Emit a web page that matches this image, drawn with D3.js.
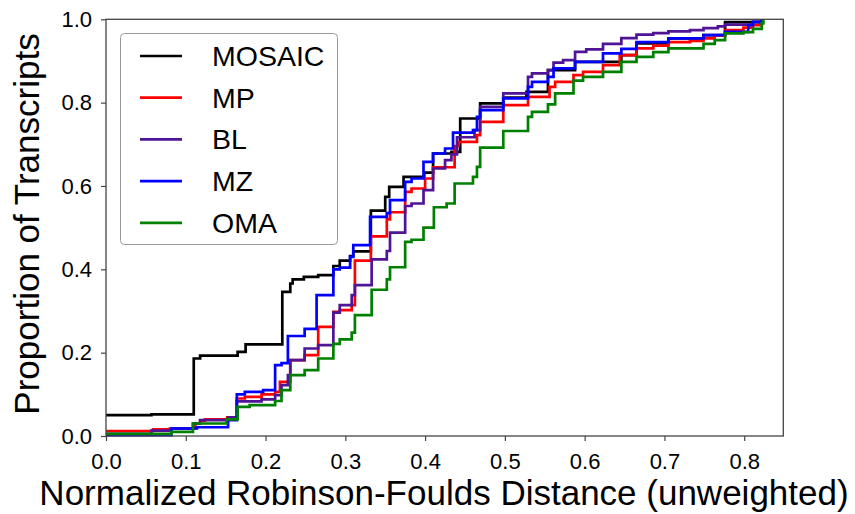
<!DOCTYPE html>
<html>
<head>
<meta charset="utf-8">
<title>Robinson-Foulds distance CDF</title>
<script src="https://d3js.org/d3.v7.min.js"></script>
<style>
  body {margin: 0; background: white;}
  text {font-family: "Liberation Sans", Arial, sans-serif; fill: black;}
</style>
</head>
<body>
<svg width="855" height="514"></svg>
<script>
// step points [distance, proportion]
var mosaic = [[0,0.050],[0.057,0.052],[0.110,0.186],[0.118,0.193],[0.165,0.202],[0.175,0.220],[0.221,0.346],[0.231,0.366],[0.234,0.376],[0.248,0.382],[0.266,0.386],[0.285,0.408],[0.293,0.421],[0.306,0.432],[0.310,0.443],[0.332,0.541],[0.350,0.574],[0.355,0.598],[0.373,0.622],[0.399,0.632],[0.410,0.678],[0.433,0.682],[0.444,0.762],[0.469,0.798],[0.498,0.812],[0.527,0.826],[0.554,0.878],[0.588,0.898],[0.646,0.914],[0.665,0.942],[0.705,0.954],[0.749,0.962],[0.776,0.993],[0.822,1.0]];
var mp = [[0,0.012],[0.059,0.016],[0.080,0.018],[0.112,0.030],[0.118,0.037],[0.124,0.040],[0.152,0.045],[0.164,0.090],[0.174,0.094],[0.195,0.100],[0.212,0.106],[0.218,0.130],[0.231,0.182],[0.249,0.194],[0.266,0.262],[0.285,0.298],[0.293,0.302],[0.308,0.314],[0.312,0.421],[0.332,0.479],[0.352,0.520],[0.356,0.537],[0.375,0.586],[0.383,0.594],[0.400,0.618],[0.410,0.645],[0.437,0.696],[0.442,0.706],[0.465,0.722],[0.469,0.754],[0.498,0.794],[0.529,0.814],[0.556,0.838],[0.563,0.850],[0.586,0.866],[0.598,0.874],[0.623,0.890],[0.644,0.914],[0.665,0.930],[0.686,0.937],[0.705,0.945],[0.732,0.948],[0.749,0.954],[0.763,0.961],[0.776,0.974],[0.799,0.980],[0.811,0.986],[0.820,0.994],[0.823,1.0]];
var bl = [[0,0.005],[0.057,0.013],[0.082,0.018],[0.109,0.030],[0.118,0.038],[0.153,0.045],[0.164,0.083],[0.195,0.088],[0.212,0.098],[0.220,0.122],[0.228,0.146],[0.231,0.182],[0.249,0.210],[0.266,0.218],[0.285,0.296],[0.293,0.314],[0.308,0.338],[0.312,0.362],[0.333,0.424],[0.352,0.444],[0.356,0.488],[0.375,0.552],[0.383,0.558],[0.398,0.590],[0.410,0.642],[0.425,0.662],[0.433,0.676],[0.440,0.717],[0.462,0.734],[0.469,0.790],[0.498,0.822],[0.529,0.862],[0.534,0.870],[0.554,0.878],[0.561,0.896],[0.573,0.902],[0.588,0.922],[0.602,0.928],[0.623,0.941],[0.646,0.955],[0.665,0.963],[0.686,0.967],[0.705,0.971],[0.732,0.974],[0.749,0.979],[0.767,0.983],[0.776,0.987],[0.811,0.994],[0.822,1.0]];
var mz = [[0,0.002],[0.082,0.018],[0.114,0.021],[0.153,0.038],[0.164,0.100],[0.174,0.106],[0.197,0.110],[0.212,0.170],[0.220,0.175],[0.228,0.240],[0.249,0.257],[0.264,0.338],[0.285,0.400],[0.293,0.404],[0.306,0.430],[0.310,0.458],[0.331,0.526],[0.352,0.535],[0.356,0.566],[0.375,0.610],[0.383,0.618],[0.398,0.658],[0.410,0.678],[0.425,0.690],[0.435,0.728],[0.460,0.734],[0.465,0.766],[0.469,0.782],[0.498,0.810],[0.529,0.838],[0.534,0.850],[0.554,0.862],[0.561,0.882],[0.588,0.898],[0.623,0.918],[0.646,0.929],[0.665,0.945],[0.705,0.954],[0.749,0.962],[0.776,0.970],[0.805,0.986],[0.811,0.994],[0.822,1.0]];
var oma = [[0,0.005],[0.082,0.010],[0.109,0.030],[0.151,0.040],[0.165,0.070],[0.180,0.074],[0.212,0.084],[0.220,0.110],[0.231,0.146],[0.249,0.158],[0.266,0.186],[0.285,0.221],[0.293,0.232],[0.308,0.248],[0.312,0.290],[0.333,0.351],[0.352,0.376],[0.356,0.405],[0.375,0.466],[0.383,0.471],[0.398,0.500],[0.411,0.549],[0.427,0.558],[0.437,0.606],[0.460,0.622],[0.465,0.646],[0.469,0.692],[0.498,0.732],[0.529,0.766],[0.534,0.778],[0.554,0.796],[0.563,0.822],[0.586,0.853],[0.598,0.862],[0.623,0.874],[0.646,0.898],[0.665,0.910],[0.686,0.921],[0.705,0.930],[0.749,0.941],[0.763,0.950],[0.776,0.966],[0.799,0.969],[0.811,0.977],[0.822,0.990],[0.824,1.0]];

var names = ["MOSAIC", "MP", "BL", "MZ", "OMA"];
var colors = ["#000000", "#ff0000", "#4f1596", "#0000ff", "#008000"];
var xTicks = [0, 0.1, 0.2, 0.3, 0.4, 0.5, 0.6, 0.7, 0.8];
var yTicks = [0, 0.2, 0.4, 0.6, 0.8, 1.0];

var series = [mosaic, mp, bl, mz, oma];

var padLeft = 106, padTop = 19.3, w = 677.3, h = 416.7;
var svg = d3.select("svg");
var g = svg.append("g").attr("transform", "translate(" + padLeft + "," + padTop + ")");

var x = d3.scaleLinear().domain([0, 0.849]).range([0, w]);
var y = d3.scaleLinear().domain([0, 1]).range([h, 0]);

var line = d3.line()
    .x(d => x(d[0]))
    .y(d => y(d[1]))
    .curve(d3.curveStepAfter);

series.forEach(function(s, i) {
  g.append("path")
    .attr("d", line(s))
    .attr("fill", "none")
    .attr("stroke", colors[i])
    .attr("stroke-width", 2.7);
});

// frame
g.append("rect").attr("width", w).attr("height", h)
  .attr("fill", "none").attr("stroke", "#444").attr("stroke-width", 1.3);

var xAxis = g.append("g").attr("transform", "translate(0," + h + ")")
  .call(d3.axisBottom(x).tickValues(xTicks).tickFormat(d3.format(".1f")).tickSize(5).tickPadding(12));
var yAxis = g.append("g")
  .call(d3.axisLeft(y).tickValues(yTicks).tickFormat(d3.format(".1f")).tickSize(5).tickPadding(9));
[xAxis, yAxis].forEach(function(a) {
  a.select(".domain").remove();
  a.selectAll("line").attr("stroke", "#444").attr("stroke-width", 1.2);
  a.selectAll("text").style("font-size", "22px").attr("fill", "black");
});

svg.append("text")
  .attr("x", 444).attr("y", 505)
  .attr("text-anchor", "middle")
  .style("font-size", "35px")
  .text("Normalized Robinson-Foulds Distance (unweighted)");

svg.append("text")
  .attr("transform", "translate(39,224) rotate(-90)")
  .attr("text-anchor", "middle")
  .style("font-size", "35px")
  .text("Proportion of Transcripts");

// legend
var lg = svg.append("g");
lg.append("rect")
  .attr("x", 120.5).attr("y", 33.5).attr("width", 217).attr("height", 211)
  .attr("rx", 4).attr("fill", "white").attr("stroke", "#999").attr("stroke-width", 1);
names.forEach(function(n, i) {
  var ly = 56 + i * 41.7;
  lg.append("line").attr("x1", 140).attr("x2", 182).attr("y1", ly).attr("y2", ly)
    .attr("stroke", colors[i]).attr("stroke-width", 2.7);
  lg.append("text").attr("x", 212).attr("y", ly + 10)
    .style("font-size", "28.5px").text(n);
});
</script>
</body>
</html>
